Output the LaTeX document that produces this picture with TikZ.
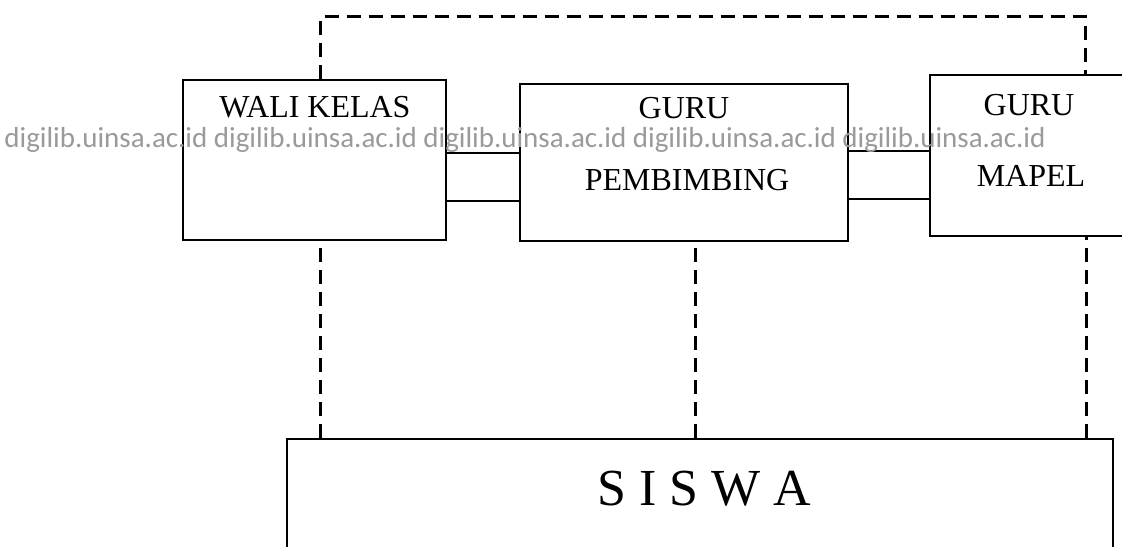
\documentclass[tikz,border=0pt]{standalone}
\usepackage{fontspec}
\setmainfont{Liberation Serif}
\newfontfamily\markfont{Carlito}
\usetikzlibrary{positioning, calc}
\definecolor{markgray}{HTML}{9A9A9A}

\begin{document}
\begin{tikzpicture}[
    x=0.5pt, y=-0.5pt,
    box/.style={draw, line width=1.1pt, inner sep=0pt},
    boxtext/.style={font=\fontsize{16}{18}\selectfont, anchor=base, inner sep=0pt},
    link/.style={line width=0.9pt},
    relation/.style={line width=1.5pt, dash pattern=on 7pt off 4pt},
    watermark/.style={font=\markfont\fontsize{14.5}{16}\selectfont, color=markgray, anchor=base west, inner sep=0pt},
]

% frame of the page
\clip (0,0) rectangle (1122,546);

% ============================================================
% staff boxes
% ============================================================
\node[box, minimum width=131.5pt, minimum height=80pt] (wali) at (314.5,160) {};
\node[box, minimum width=164pt, minimum height=78.5pt] (pembimbing) at (684,162.5) {};
\node[box, minimum width=110pt, minimum height=80.5pt] (mapel) at (1040,155.5) {};

\node[boxtext] (wali-text) at (315,117) {WALI KELAS};
\node[boxtext] (pembimbing-guru) at (684,118) {GURU};
\node[boxtext] (pembimbing-text) at (687,190) {PEMBIMBING};
\node[boxtext] (mapel-guru) at (1029,115) {GURU};
\node[boxtext] (mapel-text) at (1031,186) {MAPEL};

% students
\node[box, minimum width=413pt, minimum height=80pt] (siswa) at (700,519) {};
\node[boxtext, font=\fontsize{26}{28}\selectfont] (siswa-text) at (704,505) {S I S W A};

% ============================================================
% links between the staff
% ============================================================
\draw[link] (wali.east |- 0,153) -- (pembimbing.west |- 0,153);
\draw[link] (wali.east |- 0,201) -- (pembimbing.west |- 0,201);
\draw[link] (pembimbing.east |- 0,151) -- (mapel.west |- 0,151);
\draw[link] (pembimbing.east |- 0,199) -- (mapel.west |- 0,199);

% dashed relations
\draw[relation] ([xshift=3pt]wali.north) -- ++(0,-62) -| ([xshift=22.5pt]mapel.north);
\draw[relation] ([xshift=3pt]wali.south |- siswa.north) -- ([xshift=3pt]wali.south);
\draw[relation] ([xshift=5.5pt]pembimbing.south |- siswa.north) -- ([xshift=5.5pt]pembimbing.south);
\draw[relation] ([xshift=23pt]mapel.south |- siswa.north) -- ([xshift=23pt]mapel.south);

% ============================================================
% watermark
% ============================================================
\node[watermark] (mark) at (4,147)
    {digilib.uinsa.ac.id digilib.uinsa.ac.id digilib.uinsa.ac.id digilib.uinsa.ac.id digilib.uinsa.ac.id};

\end{tikzpicture}
\end{document}
